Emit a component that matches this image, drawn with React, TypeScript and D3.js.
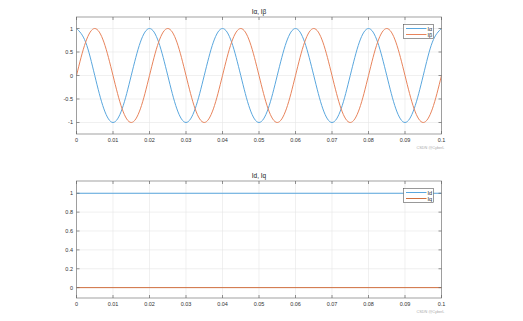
import React from "react";
import * as d3 from "d3";

// time samples (s), every 1/8 period of a 50 Hz wave
const tSamples: number[] = [
  0, 0.0025, 0.005, 0.0075, 0.01, 0.0125, 0.015, 0.0175,
  0.02, 0.0225, 0.025, 0.0275, 0.03, 0.0325, 0.035, 0.0375,
  0.04, 0.0425, 0.045, 0.0475, 0.05, 0.0525, 0.055, 0.0575,
  0.06, 0.0625, 0.065, 0.0675, 0.07, 0.0725, 0.075, 0.0775,
  0.08, 0.0825, 0.085, 0.0875, 0.09, 0.0925, 0.095, 0.0975, 0.1,
];
const iAlpha: number[] = [
  1, 0.71, 0, -0.71, -1, -0.71, 0, 0.71,
  1, 0.71, 0, -0.71, -1, -0.71, 0, 0.71,
  1, 0.71, 0, -0.71, -1, -0.71, 0, 0.71,
  1, 0.71, 0, -0.71, -1, -0.71, 0, 0.71,
  1, 0.71, 0, -0.71, -1, -0.71, 0, 0.71, 1,
];
const iBeta: number[] = [
  0, 0.71, 1, 0.71, 0, -0.71, -1, -0.71,
  0, 0.71, 1, 0.71, 0, -0.71, -1, -0.71,
  0, 0.71, 1, 0.71, 0, -0.71, -1, -0.71,
  0, 0.71, 1, 0.71, 0, -0.71, -1, -0.71,
  0, 0.71, 1, 0.71, 0, -0.71, -1, -0.71, 0,
];
const tDq: number[] = [0, 0.1];
const iD: number[] = [1, 1];
const iQ: number[] = [0, 0];

const xTicks: number[] = [0, 0.01, 0.02, 0.03, 0.04, 0.05, 0.06, 0.07, 0.08, 0.09, 0.1];
const yTicksTop: number[] = [-1, -0.5, 0, 0.5, 1];
const yTicksBottom: number[] = [0, 0.2, 0.4, 0.6, 0.8, 1];

const titleTop = "Iα, Iβ";
const titleBottom = "Id, Iq";
const legendTop = ["Iα", "Iβ"];
const legendBottom = ["Id", "Iq"];
const watermark = "CSDN @CyberL";

const BLUE = "#5aa7de";
const ORANGE = "#e8845c";
const FONT = "'Liberation Sans', Arial, sans-serif";

type Series = { x: number[]; y: number[]; color: string; curve: boolean };

function Panel(props: {
  top: number;
  bottom: number;
  yDomain: [number, number];
  yTicks: number[];
  title: string;
  legend: string[];
  series: Series[];
}) {
  const left = 76.5;
  const right = 441.5;
  const x = d3.scaleLinear().domain([0, 0.1]).range([left, right]);
  const y = d3.scaleLinear().domain(props.yDomain).range([props.bottom, props.top]);
  const fmt = (v: number) => String(+v.toFixed(2));
  const tickLen = 3;
  const lgX = 403.5;
  const lgY = props.top + 7.5;
  return (
    <g>
      {xTicks.map((t) => (
        <line key={"gx" + t} x1={x(t)} x2={x(t)} y1={props.top} y2={props.bottom} stroke="#e6e6e6" strokeWidth={0.6} />
      ))}
      {props.yTicks.map((t) => (
        <line key={"gy" + t} x1={left} x2={right} y1={y(t)} y2={y(t)} stroke="#e6e6e6" strokeWidth={0.6} />
      ))}
      {props.series.map((s, i) => {
        const pts = s.x.map((v, j) => [v, s.y[j]] as [number, number]);
        const line = d3
          .line<[number, number]>()
          .x((d) => x(d[0]))
          .y((d) => y(d[1]))
          .curve(s.curve ? d3.curveNatural : d3.curveLinear);
        return <path key={i} d={line(pts) || ""} fill="none" stroke={s.color} strokeWidth={1} />;
      })}
      <rect x={left} y={props.top} width={right - left} height={props.bottom - props.top} fill="none" stroke="#8a8a8a" strokeWidth={0.8} />
      {xTicks.map((t) => (
        <g key={"tx" + t}>
          <line x1={x(t)} x2={x(t)} y1={props.bottom} y2={props.bottom - tickLen} stroke="#666" strokeWidth={0.7} />
          <line x1={x(t)} x2={x(t)} y1={props.top} y2={props.top + tickLen} stroke="#666" strokeWidth={0.7} />
          <text x={x(t)} y={props.bottom + 8} fontSize={5.5} textAnchor="middle" fill="#333" fontFamily={FONT}>
            {fmt(t)}
          </text>
        </g>
      ))}
      {props.yTicks.map((t) => (
        <g key={"ty" + t}>
          <line x1={left} x2={left + tickLen} y1={y(t)} y2={y(t)} stroke="#666" strokeWidth={0.7} />
          <line x1={right} x2={right - tickLen} y1={y(t)} y2={y(t)} stroke="#666" strokeWidth={0.7} />
          <text x={73} y={y(t) + 2} fontSize={5.5} textAnchor="end" fill="#333" fontFamily={FONT}>
            {fmt(t)}
          </text>
        </g>
      ))}
      <text x={(left + right) / 2} y={props.top - 3} fontSize={6.5} textAnchor="middle" fill="#222" fontFamily={FONT}>
        {props.title}
      </text>
      <rect x={lgX} y={lgY} width={30} height={14} fill="#fff" stroke="#555" strokeWidth={0.6} />
      {props.legend.map((name, i) => (
        <g key={name}>
          <line x1={lgX + 2.5} x2={lgX + 23} y1={lgY + 4 + i * 6} y2={lgY + 4 + i * 6} stroke={props.series[i].color} strokeWidth={1} />
          <text x={lgX + 24} y={lgY + 6 + i * 6} fontSize={5.5} fill="#222" fontFamily={FONT}>
            {name}
          </text>
        </g>
      ))}
      <text x={right + 3} y={props.bottom + 15} fontSize={3.8} textAnchor="end" fill="#aaa" fontFamily={FONT}>
        {watermark}
      </text>
    </g>
  );
}

export default function App() {
  return (
    <svg width={523} height={321} style={{ position: "absolute", left: 0, top: 0, background: "#fff" }}>
      <rect width={523} height={321} fill="#fff" />
      <Panel
        top={17}
        bottom={134}
        yDomain={[-1.245, 1.245]}
        yTicks={yTicksTop}
        title={titleTop}
        legend={legendTop}
        series={[
          { x: tSamples, y: iAlpha, color: BLUE, curve: true },
          { x: tSamples, y: iBeta, color: ORANGE, curve: true },
        ]}
      />
      <Panel
        top={181}
        bottom={298}
        yDomain={[-0.11, 1.13]}
        yTicks={yTicksBottom}
        title={titleBottom}
        legend={legendBottom}
        series={[
          { x: tDq, y: iD, color: BLUE, curve: false },
          { x: tDq, y: iQ, color: "#d0703f", curve: false },
        ]}
      />
    </svg>
  );
}
